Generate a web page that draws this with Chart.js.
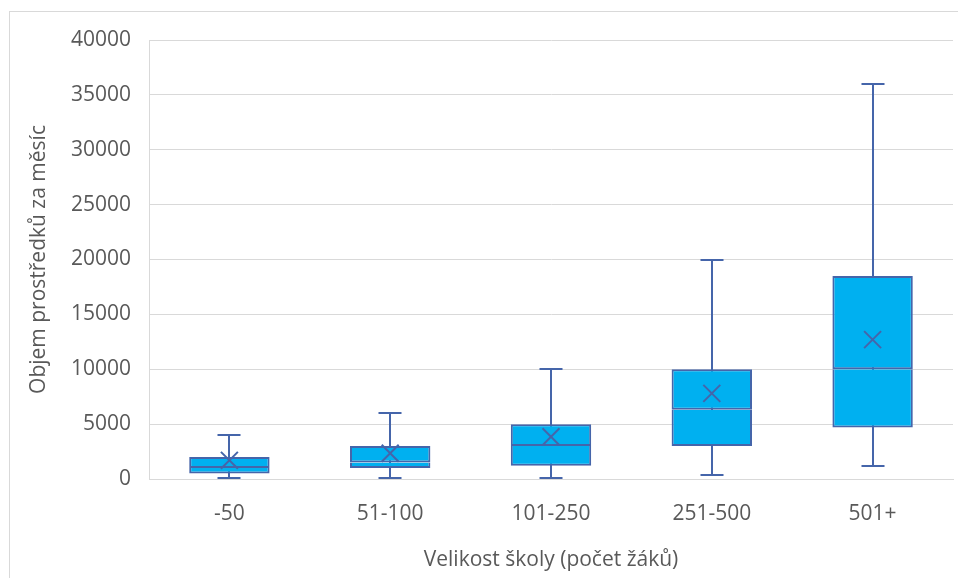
<!DOCTYPE html>
<html>
<head>
<meta charset="utf-8">
<script src="https://cdn.jsdelivr.net/npm/chart.js@4/dist/chart.umd.min.js"></script>
<style>
  html, body { margin: 0; padding: 0; background: #ffffff; }
  #frame { position: absolute; left: 9px; top: 11px; width: 980px; height: 600px; border: 1px solid #D9D9D9; box-sizing: border-box; }
  #c { position: absolute; left: 0; top: 0; }
</style>
</head>
<body>
<div id="frame"></div>
<canvas id="c" width="958" height="578"></canvas>
<script>
// ---- data ----
const categories = ['-50', '51-100', '101-250', '251-500', '501+'];
const minimums   = [100, 100, 100, 400, 1200];
const quartile1  = [500, 1000, 1200, 3000, 4700];
const medians    = [1000, 1500, 3000, 6300, 10000];
const quartile3  = [2000, 3000, 5000, 10000, 18500];
const maximums   = [4000, 6000, 10000, 20000, 36000];
const means      = [1700, 2350, 3850, 7800, 12700];
const yTickMin = 0, yTickMax = 40000, yTickStep = 5000;
const xAxisTitle = 'Velikost školy (počet žáků)';
const yAxisTitle = 'Objem prostředků za měsíc';

// ---- styles ----
const FILL = '#00B0F0';
const LINE = '#4565AA';
const TEXT = '#595959';
const GRID = '#D9D9D9';
const FONT = 'Open Sans';

const whiskerPlugin = {
  id: 'whiskers',
  beforeDatasetsDraw(chart) {
    const { ctx, scales: { x, y } } = chart;
    ctx.save();
    ctx.strokeStyle = LINE;
    ctx.lineWidth = 2;
    categories.forEach((c, i) => {
      const px = Math.round(x.getPixelForValue(i));
      const top = Math.round(y.getPixelForValue(maximums[i]));
      const bot = Math.round(y.getPixelForValue(minimums[i]));
      const half = 11.5;
      ctx.beginPath();
      ctx.moveTo(px, top); ctx.lineTo(px, bot);
      ctx.moveTo(px - half, top); ctx.lineTo(px + half, top);
      ctx.moveTo(px - half, bot); ctx.lineTo(px + half, bot);
      ctx.stroke();
    });
    ctx.restore();
  }
};

const lowerBox = categories.map((c, i) => [quartile1[i], medians[i]]);
const upperBox = categories.map((c, i) => [medians[i], quartile3[i]]);

new Chart(document.getElementById('c'), {
  type: 'bar',
  data: {
    labels: categories,
    datasets: [
      {
        type: 'line',
        data: means,
        showLine: false,
        pointStyle: 'crossRot',
        pointRadius: 12,
        pointHoverRadius: 12,
        pointBorderWidth: 2,
        pointBorderColor: LINE,
        pointBackgroundColor: LINE,
        borderColor: LINE
      },
      {
        data: upperBox,
        backgroundColor: FILL,
        borderColor: LINE,
        borderWidth: { top: 2, left: 2, right: 2, bottom: 2 },
        borderSkipped: false,
        grouped: false,
        categoryPercentage: 1,
        barPercentage: 0.5
      },
      {
        data: lowerBox,
        backgroundColor: FILL,
        borderColor: LINE,
        borderWidth: { top: 0, left: 2, right: 2, bottom: 2 },
        borderSkipped: false,
        grouped: false,
        categoryPercentage: 1,
        barPercentage: 0.5
      }
    ]
  },
  options: {
    responsive: false,
    animation: false,
    devicePixelRatio: 1,
    layout: { autoPadding: false, padding: { top: 40, right: 5, left: 0, bottom: 0 } },
    plugins: { legend: { display: false }, tooltip: { enabled: false } },
    scales: {
      x: {
        grid: { display: false, drawTicks: false },
        border: { display: true, color: GRID, width: 1 },
        ticks: { color: TEXT, font: { family: FONT, size: 21 }, padding: 22 },
        title: { display: true, text: xAxisTitle, color: TEXT, font: { family: FONT, size: 21 }, padding: { top: 0, bottom: 5 } },
        afterFit(scale) { scale.height = 99; scale.paddingLeft = 0; scale.paddingRight = 0; }
      },
      y: {
        min: yTickMin, max: yTickMax,
        grid: { color: GRID, lineWidth: 1, drawTicks: false },
        border: { display: true, color: GRID, width: 1 },
        ticks: { stepSize: yTickStep, color: TEXT, font: { family: FONT, size: 21 }, padding: 18, callback: v => String(v) },
        title: { display: true, text: yAxisTitle, color: TEXT, font: { family: FONT, size: 21 }, padding: { top: 26, bottom: 0 } },
        afterFit(scale) { scale.width = 149; scale.paddingTop = 0; scale.paddingBottom = 0; }
      }
    }
  },
  plugins: [whiskerPlugin]
});
</script>
</body>
</html>
